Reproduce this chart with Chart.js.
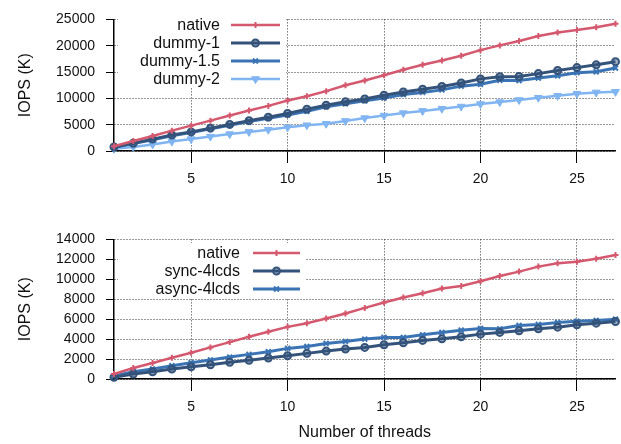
<!DOCTYPE html>
<html>
<head>
<meta charset="utf-8">
<script src="https://cdn.jsdelivr.net/npm/chart.js@4/dist/chart.umd.min.js"></script>
<style>
  body { margin: 0; background: #fff; }
  .wrap { position: absolute; left: 0; }
  #topWrap { top: 0; }
  #bottomWrap { top: 220px; }
</style>
</head>
<body>
<div class="wrap" id="topWrap"><canvas id="topChart" width="621" height="210"></canvas></div>
<div class="wrap" id="bottomWrap"><canvas id="bottomChart" width="621" height="224"></canvas></div>
<script>
const threads = [1, 2, 3, 4, 5, 6, 7, 8, 9, 10, 11, 12, 13, 14, 15, 16, 17, 18, 19, 20, 21, 22, 23, 24, 25, 26, 27];
const xTicks = [5, 10, 15, 20, 25];

// top panel
const topYTicks = [0, 5000, 10000, 15000, 20000, 25000];
const nativeTop = [900, 1900, 2860, 3870, 4820, 5770, 6730, 7680, 8570, 9590, 10410, 11370, 12500, 13390, 14400, 15420, 16370, 17200, 18100, 19160, 20060, 20900, 21850, 22500, 22980, 23520, 24160];
const dummy1 = [770, 1480, 2260, 3040, 3630, 4340, 5050, 5770, 6430, 7140, 7950, 8700, 9340, 9880, 10590, 11200, 11730, 12270, 12910, 13700, 14110, 14160, 14700, 15300, 15840, 16370, 16970];
const dummy15 = [700, 1400, 2150, 2900, 3500, 4200, 4900, 5600, 6200, 6850, 7560, 8390, 8980, 9520, 10060, 10720, 11130, 11610, 12320, 12680, 13450, 13390, 13870, 14290, 14880, 15060, 15770];
const dummy2 = [420, 770, 1250, 1790, 2260, 2740, 3210, 3630, 4050, 4520, 4900, 5180, 5710, 6250, 6730, 7200, 7620, 8040, 8450, 8930, 9290, 9700, 10120, 10480, 10890, 11130, 11250];

// bottom panel
const bottomYTicks = [0, 2000, 4000, 6000, 8000, 10000, 12000, 14000];
const nativeBottom = [500, 1100, 1600, 2130, 2630, 3170, 3700, 4230, 4730, 5230, 5590, 6070, 6570, 7130, 7670, 8170, 8600, 9070, 9330, 9800, 10330, 10770, 11270, 11600, 11770, 12070, 12430];
const sync4 = [170, 500, 730, 1000, 1230, 1430, 1670, 1870, 2100, 2330, 2570, 2800, 3000, 3170, 3430, 3630, 3870, 4030, 4230, 4500, 4670, 4830, 5030, 5200, 5430, 5600, 5770];
const async4 = [300, 730, 1000, 1330, 1630, 1900, 2200, 2470, 2730, 3070, 3260, 3570, 3770, 4000, 4170, 4170, 4430, 4670, 4900, 5070, 5030, 5370, 5470, 5670, 5800, 5870, 6000];

const FONT = '"Liberation Sans", Arial, sans-serif';
const RED = '#d4596f';
const NAVY = '#34537a';
const MID = '#3b74b4';
const LIGHT = '#80b5f2';

function series(label, values, color, style, radius, extra = {}) {
  return Object.assign({
    label,
    data: values.map((v, i) => ({ x: threads[i], y: v })),
    borderColor: color,
    backgroundColor: color,
    pointBorderColor: color,
    pointBackgroundColor: color,
    borderWidth: 2.5,
    pointStyle: style,
    pointRadius: radius,
    pointBorderWidth: 2,
    pointHoverRadius: radius,
    tension: 0,
    clip: false
  }, extra);
}

// gnuplot-style legend: label right-aligned, sample line with marker on the right
const gnuLegend = {
  id: 'gnuLegend',
  afterDraw(chart, args, opts) {
    const ctx = chart.ctx;
    ctx.save();
    ctx.fillStyle = '#fff';
    ctx.fillRect(opts.box[0], opts.box[1], opts.box[2], opts.box[3]);
    ctx.font = '16px ' + FONT;
    ctx.textAlign = 'right';
    ctx.textBaseline = 'middle';
    chart.data.datasets.forEach((ds, i) => {
      const y = opts.top + i * opts.rowH;
      ctx.fillStyle = '#111';
      ctx.fillText(ds.label, opts.textRight, y + 1);
      ctx.strokeStyle = ds.borderColor;
      ctx.lineWidth = ds.borderWidth;
      ctx.beginPath();
      ctx.moveTo(opts.lineX[0], y);
      ctx.lineTo(opts.lineX[1], y);
      ctx.stroke();
      ctx.fillStyle = ds.pointBackgroundColor;
      ctx.strokeStyle = ds.pointBorderColor;
      ctx.lineWidth = ds.pointBorderWidth;
      Chart.helpers.drawPoint(ctx, {
        pointStyle: ds.pointStyle,
        rotation: ds.pointRotation || 0,
        radius: ds.pointRadius,
        borderWidth: ds.pointBorderWidth
      }, (opts.lineX[0] + opts.lineX[1]) / 2, y);
    });
    ctx.restore();
  }
};

function makeOptions(yTicks, yMax, xTitle, axisHeight, legendOpts, topPad) {
  return {
    responsive: false,
    animation: false,
    events: [],
    layout: { padding: { top: topPad, right: 5, left: 0, bottom: 0 } },
    plugins: {
      legend: { display: false },
      tooltip: { enabled: false },
      gnuLegend: legendOpts
    },
    scales: {
      x: {
        type: 'linear',
        min: 1,
        max: 27,
        afterBuildTicks: s => { s.ticks = xTicks.map(v => ({ value: v })); },
        afterFit: s => { s.height = axisHeight; },
        border: { display: true, color: '#000', width: 1.5, dash: [1, 2] },
        grid: { color: '#333', lineWidth: 1, tickLength: 12, tickColor: '#000', tickBorderDash: [] },
        ticks: { font: { family: FONT, size: 14 }, color: '#111', padding: 8, maxRotation: 0, callback: v => String(v) },
        title: {
          display: !!xTitle,
          text: xTitle,
          font: { family: FONT, size: 16 },
          color: '#111',
          padding: { top: 2, bottom: 2 }
        }
      },
      y: {
        min: 0,
        max: yMax,
        afterBuildTicks: s => { s.ticks = yTicks.map(v => ({ value: v })); },
        afterFit: s => { s.width = 114; },
        border: { display: true, color: '#000', width: 1.5, dash: [1, 2] },
        grid: { color: '#333', lineWidth: 1, tickLength: 8, tickColor: '#000', tickBorderDash: [] },
        ticks: { font: { family: FONT, size: 14 }, color: '#111', padding: 11, callback: v => String(v) },
        title: {
          display: true,
          text: 'IOPS (K)',
          font: { family: FONT, size: 16 },
          color: '#111',
          padding: { top: 16, bottom: 0 }
        }
      }
    }
  };
}

const ringFill = 'rgba(52,83,122,0.45)';

new Chart(document.getElementById('topChart'), {
  type: 'line',
  data: {
    datasets: [
      series('native', nativeTop, RED, 'cross', 3),
      series('dummy-1', dummy1, NAVY, 'circle', 3.5, { pointBackgroundColor: ringFill, borderWidth: 3 }),
      series('dummy-1.5', dummy15, MID, 'crossRot', 3.5, { borderWidth: 3 }),
      series('dummy-2', dummy2, LIGHT, 'triangle', 4.5, { pointRotation: 180, pointBorderWidth: 1 })
    ]
  },
  options: makeOptions(topYTicks, 25000, '', 59, {
    box: [118, 15, 168, 73], top: 25, rowH: 18, textRight: 220, lineX: [231, 280]
  }, 11),
  plugins: [gnuLegend]
});

new Chart(document.getElementById('bottomChart'), {
  type: 'line',
  data: {
    datasets: [
      series('native', nativeBottom, RED, 'cross', 3),
      series('sync-4lcds', sync4, NAVY, 'circle', 3.5, { pointBackgroundColor: ringFill, borderWidth: 3 }),
      series('async-4lcds', async4, MID, 'crossRot', 3.5, { borderWidth: 3 })
    ]
  },
  options: makeOptions(bottomYTicks, 14000, 'Number of threads', 65, {
    box: [118, 23, 188, 55], top: 33, rowH: 18, textRight: 240, lineX: [253, 300]
  }, 19),
  plugins: [gnuLegend]
});
</script>
</body>
</html>
